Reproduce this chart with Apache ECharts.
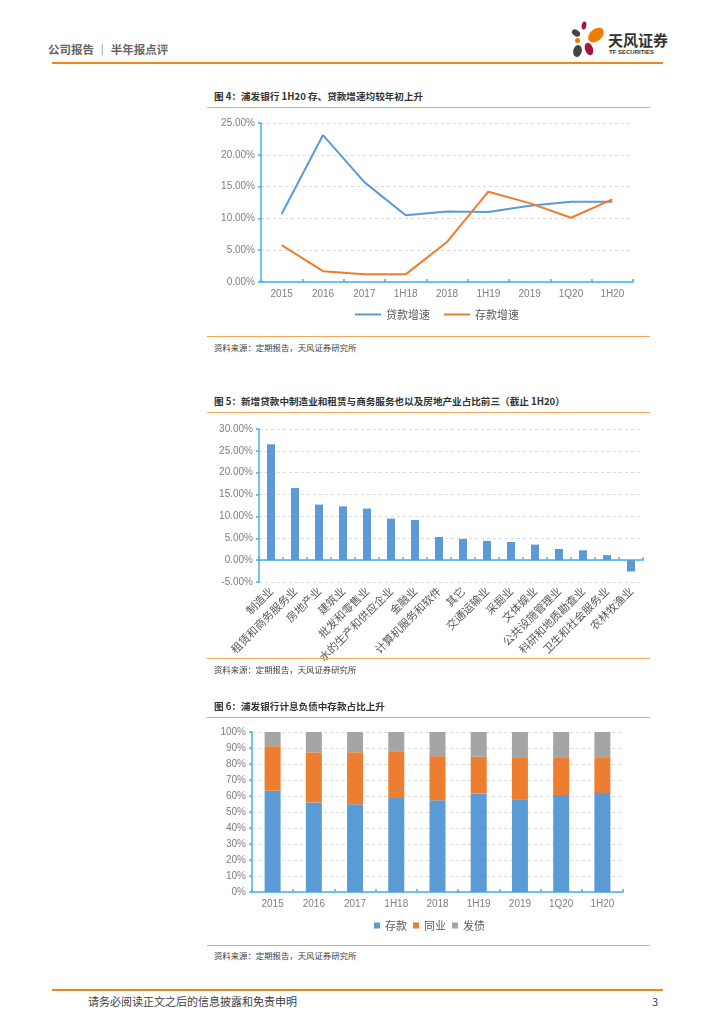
<!DOCTYPE html>
<html><head><meta charset="utf-8">
<script src="https://cdn.jsdelivr.net/npm/echarts@6/dist/echarts.min.js"></script>
<style>
body{margin:0;background:#fff;font-family:"Noto Sans CJK SC","Noto Sans",sans-serif;}
#page{position:relative;width:724px;height:1024px;overflow:hidden;background:#fff;}
.t{position:absolute;white-space:nowrap;}
.hl{position:absolute;background:#f4a55a;height:1px;}
.ch{position:absolute;left:0;width:724px;}
.title{font-size:9.6px;font-weight:bold;color:#333;}
.src{font-size:8.4px;color:#404040;}
</style></head><body>
<div id="page">
  <div class="t" style="left:48px;top:41px;font-size:11.5px;font-weight:bold;color:#666;">公司报告 ｜ 半年报点评</div>
  <div class="hl" style="left:52px;top:62px;width:611px;height:2px;background:#f0871e;"></div>
  <svg style="position:absolute;left:565px;top:18px;" width="50" height="45">
    <ellipse cx="19" cy="7.5" rx="2.3" ry="4" fill="#a2173a" transform="rotate(10 19 7.5)"/>
    <ellipse cx="11" cy="15" rx="4.5" ry="3" fill="#444" transform="rotate(35 11 15)"/>
    <ellipse cx="31" cy="17" rx="9" ry="6" fill="#ef7d00" transform="rotate(-40 31 17)"/>
    <circle cx="12.5" cy="22.5" r="2.5" fill="#ef7d00"/>
    <ellipse cx="12.5" cy="33" rx="4.3" ry="6" fill="#444" transform="rotate(15 12.5 33)"/>
    <ellipse cx="24" cy="31" rx="4" ry="6.5" fill="#a2173a" transform="rotate(-20 24 31)"/>
  </svg>
  <div class="t" style="left:608px;top:29px;font-size:15px;font-weight:bold;color:#333;">天风证券</div>
  <div class="t" style="left:609px;top:49px;font-size:6px;font-weight:bold;color:#333;font-family:'Liberation Sans',sans-serif;">TF SECURITIES</div>

  <div class="t title" style="left:214px;top:89px;">图 4：浦发银行 1H20 存、贷款增速均较年初上升</div>
  <div class="hl" style="left:207px;top:107px;width:443px;"></div>
  <div id="c1" class="ch" style="top:110px;height:225px;"></div>
  <div class="hl" style="left:207px;top:336px;width:443px;"></div>
  <div class="t src" style="left:214px;top:341px;">资料来源：定期报告，天风证券研究所</div>

  <div class="t title" style="left:214px;top:394px;">图 5：新增贷款中制造业和租赁与商务服务也以及房地产业占比前三（截止 1H20）</div>
  <div class="hl" style="left:207px;top:412px;width:443px;"></div>
  <div id="c2" class="ch" style="top:415px;height:262px;"></div>
  <div class="hl" style="left:207px;top:658px;width:443px;"></div>
  <div class="t src" style="left:214px;top:663px;">资料来源：定期报告，天风证券研究所</div>

  <div class="t title" style="left:214px;top:699px;">图 6：浦发银行计息负债中存款占比上升</div>
  <div class="hl" style="left:207px;top:717px;width:443px;"></div>
  <div id="c3" class="ch" style="top:720px;height:224px;"></div>
  <div class="hl" style="left:207px;top:945px;width:443px;"></div>
  <div class="t src" style="left:214px;top:949px;">资料来源：定期报告，天风证券研究所</div>

  <div class="hl" style="left:52px;top:989px;width:611px;height:2px;background:#f0871e;"></div>
  <div class="t" style="left:88px;top:993px;font-size:11px;color:#404040;">请务必阅读正文之后的信息披露和免责申明</div>
  <div class="t" style="left:652px;top:993px;font-size:11px;color:#404040;">3</div>
</div>
<script>
// ---- Chart 1 data ----
const periods = ['2015','2016','2017','1H18','2018','1H19','2019','1Q20','1H20'];
const loanGrowth = [10.7, 23.1, 15.7, 10.5, 11.1, 11.0, 12.0, 12.6, 12.6];
const depositGrowth = [5.8, 1.7, 1.2, 1.2, 6.3, 14.2, 12.4, 10.1, 13.0];
// ---- Chart 2 data ----
const industries = ['制造业','租赁和商务服务业','房地产业','建筑业','批发和零售业','水的生产和供应企业','金融业','计算机服务和软件','其它','交通运输业','采掘业','文体娱业','公共设施管理业','科研和地质勘查业','卫生和社会服务业','农林牧渔业'];
const industryShare = [26.5, 16.5, 12.7, 12.3, 11.8, 9.5, 9.2, 5.3, 4.85, 4.4, 4.15, 3.55, 2.55, 2.25, 1.15, -2.6];
// ---- Chart 3 data ----
const depositShare = [63.3, 56.0, 54.8, 58.7, 57.3, 61.6, 57.9, 60.6, 61.8];
const interbankShare = [27.8, 31.3, 32.5, 29.3, 27.6, 23.0, 25.9, 23.2, 22.0];
const bondShare = [8.9, 12.7, 12.7, 12.0, 15.1, 15.4, 16.2, 16.2, 16.2];

const FONT = '"Noto Sans CJK SC","Noto Sans",sans-serif';
const AX = '#43b0ec';
const LBL = '#7f7f7f';
const BLUE = '#5b9bd5', ORANGE = '#ed7d31', GRAY = '#a5a5a5';
const splitLine = {show:true, lineStyle:{color:'#d9d9d9', type:[3,3], width:1}};

function valueAxis(min, max, interval, fmt){
  return {type:'value', min, max, interval,
    axisLine:{show:true, lineStyle:{color:AX, width:1.5}},
    axisTick:{show:true, length:3, lineStyle:{color:AX, width:1.5}},
    axisLabel:{color:LBL, fontSize:10, fontFamily:'Liberation Sans', margin:6, formatter:fmt},
    splitLine};
}
function catAxis(data, extra){
  return Object.assign({type:'category', data, boundaryGap:true,
    axisLine:{show:true, lineStyle:{color:AX, width:1.5}},
    axisTick:{show:true, inside:true, length:3, lineStyle:{color:AX, width:1.5}},
    axisLabel:{color:LBL, fontSize:10, fontFamily:'Liberation Sans', margin:7}}, extra||{});
}

const c1 = echarts.init(document.getElementById('c1'));
c1.setOption({
  animation:false,
  grid:{left:261, right:91, top:13, height:159, containLabel:false, outerBoundsMode:'none'},
  xAxis: catAxis(periods),
  yAxis: valueAxis(0, 25, 5, v => v.toFixed(2)+'%'),
  legend:{left:355, top:199, padding:0, itemWidth:26, itemHeight:2, itemGap:14,
    textStyle:{color:'#595959', fontSize:11, fontFamily:FONT},
    data:[{name:'贷款增速', icon:'rect'},{name:'存款增速', icon:'rect'}]},
  series:[
    {name:'贷款增速', type:'line', data:loanGrowth, symbol:'none', lineStyle:{color:BLUE, width:2}, itemStyle:{color:BLUE}},
    {name:'存款增速', type:'line', data:depositGrowth, symbol:'none', lineStyle:{color:ORANGE, width:2}, itemStyle:{color:ORANGE}}
  ]
});

const c2 = echarts.init(document.getElementById('c2'));
c2.setOption({
  animation:false,
  grid:{left:259, right:81, top:14, height:153, containLabel:false, outerBoundsMode:'none'},
  xAxis: catAxis(industries, {axisLabel:{color:'#595959', fontSize:11, fontFamily:FONT, rotate:45, interval:0, margin:7}}),
  yAxis: valueAxis(-5, 30, 5, v => v.toFixed(2)+'%'),
  series:[{type:'bar', data:industryShare, barWidth:8, itemStyle:{color:BLUE}}]
});

const c3 = echarts.init(document.getElementById('c3'));
c3.setOption({
  animation:false,
  grid:{left:252, right:101, top:12, height:160, containLabel:false, outerBoundsMode:'none'},
  xAxis: catAxis(periods),
  yAxis: valueAxis(0, 100, 10, v => v+'%'),
  legend:{left:374, top:200, padding:0, itemWidth:6, itemHeight:6, itemGap:6, icon:'rect',
    textStyle:{color:'#595959', fontSize:11, fontFamily:FONT},
    data:['存款','同业','发债']},
  series:[
    {name:'存款', type:'bar', stack:'a', data:depositShare, barWidth:16, itemStyle:{color:BLUE}},
    {name:'同业', type:'bar', stack:'a', data:interbankShare, barWidth:16, itemStyle:{color:ORANGE}},
    {name:'发债', type:'bar', stack:'a', data:bondShare, barWidth:16, itemStyle:{color:GRAY}}
  ]
});
</script>
</body></html>
